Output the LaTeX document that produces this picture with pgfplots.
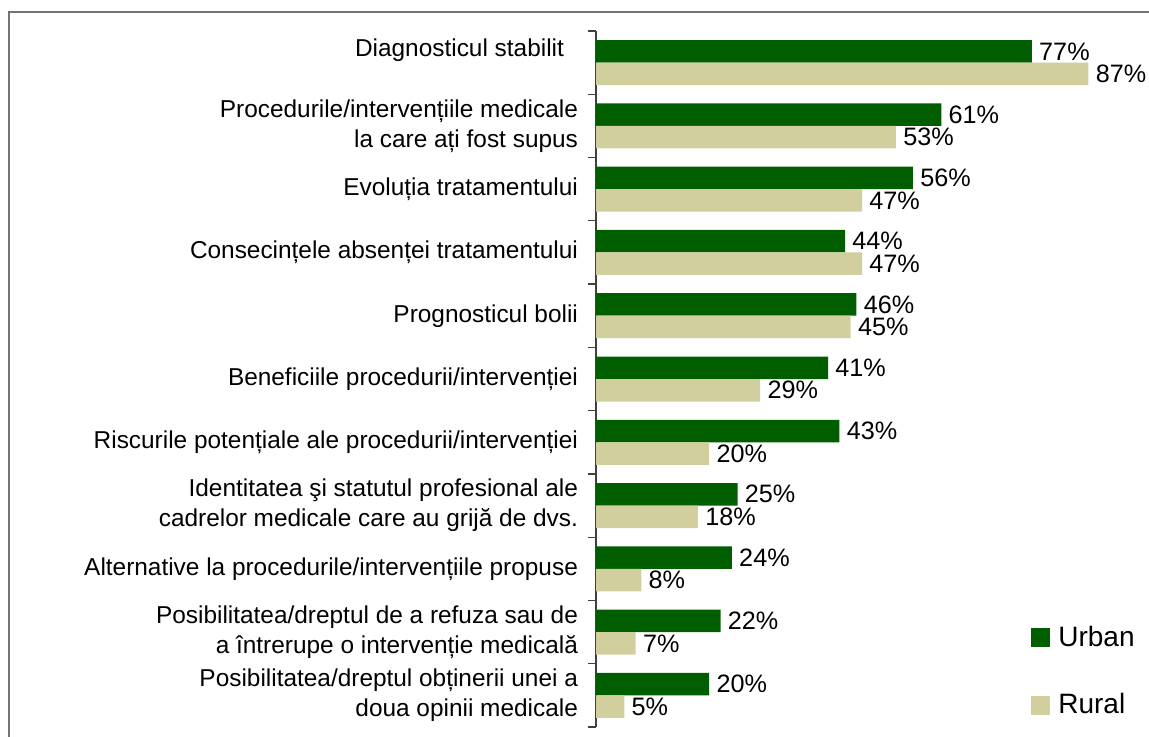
\documentclass[border=0pt]{standalone}
\usepackage{fontspec}
\setmainfont{Liberation Sans}
\usepackage{pgfplots}
\pgfplotsset{compat=1.18}
\definecolor{urban}{HTML}{005E00}
\definecolor{rural}{HTML}{D2CF9F}

\begin{document}
\begin{tikzpicture}
\useasboundingbox (0,0) rectangle (574.5pt,368pt);
\begin{axis}[
  at={(298pt,4.5pt)}, anchor=south west,
  scale only axis, width=283pt, height=348pt,
  xbar, bar width=11.25pt,
  xmin=0, xmax=100,
  ymin=-0.5, ymax=10.5,
  axis x line=none, axis y line*=left,
  axis line style={black!75, line width=0.6pt},
  ytick={0,...,10},
  yticklabels={
    {Posibilitatea/dreptul obținerii unei a\\doua opinii medicale},
    {Posibilitatea/dreptul de a refuza sau de\\a întrerupe o intervenție medicală},
    {Alternative la procedurile/intervențiile propuse},
    {Identitatea şi statutul profesional ale\\cadrelor medicale care au grijă de dvs.},
    {Riscurile potențiale ale procedurii/intervenției},
    {Beneficiile procedurii/intervenției},
    {Prognosticul bolii},
    {Consecințele absenței tratamentului},
    {Evoluția tratamentului},
    {Procedurile/intervențiile medicale\\la care ați fost supus},
    {Diagnosticul stabilit\hspace*{7pt}\\\mbox{}}},
  yticklabel style={align=right, font=\fontsize{12.2}{15}\selectfont, xshift=-5.5pt},
  major tick length=0pt,
  minor ytick={-0.5,0.5,...,10.5},
  minor tick length=4pt, tick align=outside,
  minor tick style={black!75, line width=0.6pt},
  clip=false,
  point meta=x,
  /pgf/number format/assume math mode=true,
  nodes near coords={\pgfmathprintnumber{\pgfplotspointmeta}\%},
  nodes near coords style={font=\fontsize{12.6}{15}\selectfont, black, inner xsep=3.5pt, inner ysep=0pt},
  legend style={draw=none, fill=none, at={(0.757,0.157)}, anchor=north west,
    font=\fontsize{14}{16}\selectfont, row sep=18pt, cells={anchor=west}},
  legend image code/.code={\fill[#1] (0pt,-4.75pt) rectangle (9.5pt,4.75pt); \path (11.75pt,0pt);},
]
\addplot[fill=urban, draw=none, bar shift=5.625pt] coordinates {
  (20,0) (22,1) (24,2) (25,3) (43,4) (41,5) (46,6) (44,7) (56,8) (61,9) (77,10)};
\addplot[fill=rural, draw=none, bar shift=-5.625pt] coordinates {
  (5,0) (7,1) (8,2) (18,3) (20,4) (29,5) (45,6) (47,7) (47,8) (53,9) (87,10)};
\legend{Urban, Rural}
\end{axis}
\draw[black!55, line width=0.75pt] (4.5pt,-20pt) -- (4.5pt,362pt) -- (600pt,362pt);
\end{tikzpicture}
\end{document}
